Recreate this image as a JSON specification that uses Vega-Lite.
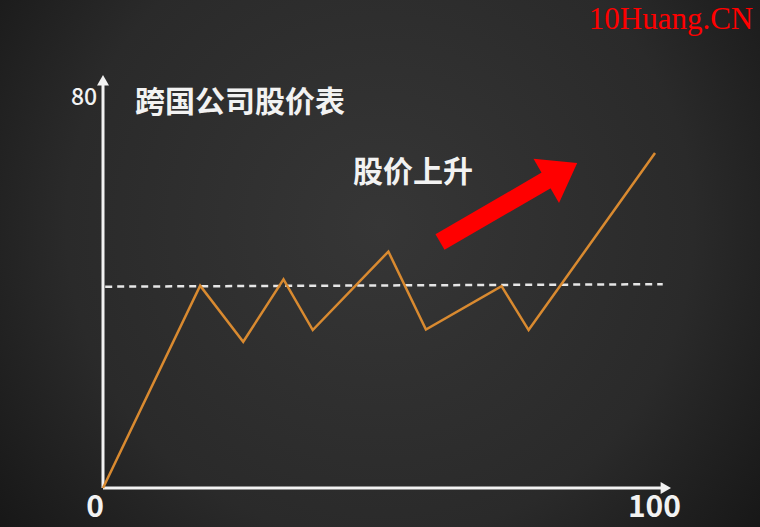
{
  "$schema": "https://vega.github.io/schema/vega-lite/v6.json",
  "width": 760,
  "height": 527,
  "autosize": {"type": "fit", "contains": "padding"},
  "padding": 0,
  "background": "#1a1a1a",
  "config": {"view": {"stroke": null}, "font": "Noto Sans CJK SC"},
  "encoding": {
    "x": {"field": "x", "type": "quantitative", "scale": {"domain": [-18.66, 119.02], "nice": false, "zero": false}, "axis": null},
    "y": {"field": "y", "type": "quantitative", "scale": {"domain": [-8, 100.1], "nice": false, "zero": false}, "axis": null}
  },
  "layer": [
    {
      "data": {"values": [{"x": -18.66, "x2": 119.02, "y": -8, "y2": 100.1}]},
      "mark": {
        "type": "rect",
        "fill": {
          "gradient": "radial",
          "x1": 0.5, "y1": 0.45, "r1": 0,
          "x2": 0.5, "y2": 0.45, "r2": 0.75,
          "stops": [
            {"offset": 0, "color": "#363636"},
            {"offset": 0.55, "color": "#2a2a2a"},
            {"offset": 1, "color": "#0e0e0e"}
          ]
        }
      },
      "encoding": {
        "x2": {"field": "x2"},
        "y2": {"field": "y2"}
      }
    },
    {
      "data": {"values": [{"x": 0.4, "y": 41.3}, {"x": 101.4, "y": 41.8}]},
      "mark": {"type": "line", "color": "#e6e6e6", "strokeWidth": 2.5, "strokeDash": [7, 5]}
    },
    {
      "data": {"values": [{"x": 0, "y": 0, "y2": 83}]},
      "mark": {"type": "rule", "color": "#f2f2f2", "strokeWidth": 3},
      "encoding": {"y2": {"field": "y2"}}
    },
    {
      "data": {"values": [{"x": 0, "x2": 101.5, "y": 0}]},
      "mark": {"type": "rule", "color": "#f2f2f2", "strokeWidth": 3},
      "encoding": {"x2": {"field": "x2"}}
    },
    {
      "data": {"values": [{"x": 0, "y": 83.65}]},
      "mark": {"type": "point", "shape": "triangle-up", "filled": true, "size": 144, "color": "#f2f2f2", "opacity": 1}
    },
    {
      "data": {"values": [{"x": 101.96, "y": 0}]},
      "mark": {"type": "point", "shape": "triangle-right", "filled": true, "size": 144, "color": "#f2f2f2", "opacity": 1}
    },
    {
      "data": {
        "values": [
          {"x": 0, "y": 0},
          {"x": 17.6, "y": 41.5},
          {"x": 25.4, "y": 30.0},
          {"x": 32.7, "y": 42.8},
          {"x": 38.0, "y": 32.4},
          {"x": 51.7, "y": 48.5},
          {"x": 58.5, "y": 32.5},
          {"x": 72.2, "y": 41.4},
          {"x": 77.1, "y": 32.4},
          {"x": 100, "y": 68.7}
        ]
      },
      "mark": {"type": "line", "color": "#d98a30", "strokeWidth": 2.5}
    },
    {
      "data": {"values": [{"x": 61.05, "y": 50.46}, {"x": 80.6, "y": 63.3}]},
      "mark": {"type": "line", "color": "#ff0000", "strokeWidth": 18, "strokeCap": "butt"}
    },
    {
      "data": {"values": [{"x": 83.1, "y": 64.84}]},
      "mark": {"type": "point", "shape": "M0,-0.7L1,0.7L-1,0.7Z", "filled": true, "size": 2601, "angle": 60, "color": "#ff0000", "opacity": 1}
    },
    {
      "data": {"values": [{"x": -3.44, "y": 80, "label": "80"}]},
      "mark": {"type": "text", "color": "#f2f2f2", "fontSize": 23, "fontWeight": 500, "align": "center", "baseline": "middle"},
      "encoding": {"text": {"field": "label"}}
    },
    {
      "data": {"values": [{"x": -1.45, "y": -4.2, "label": "0"}, {"x": 99.9, "y": -4.2, "label": "100"}]},
      "mark": {"type": "text", "color": "#f2f2f2", "fontSize": 30, "fontWeight": "bold", "align": "center", "baseline": "middle"},
      "encoding": {"text": {"field": "label"}}
    },
    {
      "data": {"values": [{"x": 5.8, "y": 78.9, "label": "跨国公司股价表"}, {"x": 45.3, "y": 64.6, "label": "股价上升"}]},
      "mark": {"type": "text", "color": "#f2f2f2", "fontSize": 30, "fontWeight": "bold", "align": "left", "baseline": "middle"},
      "encoding": {"text": {"field": "label"}}
    },
    {
      "data": {"values": [{"x": 117.8, "y": 94.15, "label": "10Huang.CN"}]},
      "mark": {"type": "text", "color": "#ff0000", "font": "Liberation Serif", "fontSize": 31, "align": "right", "baseline": "alphabetic"},
      "encoding": {"text": {"field": "label"}}
    }
  ]
}
